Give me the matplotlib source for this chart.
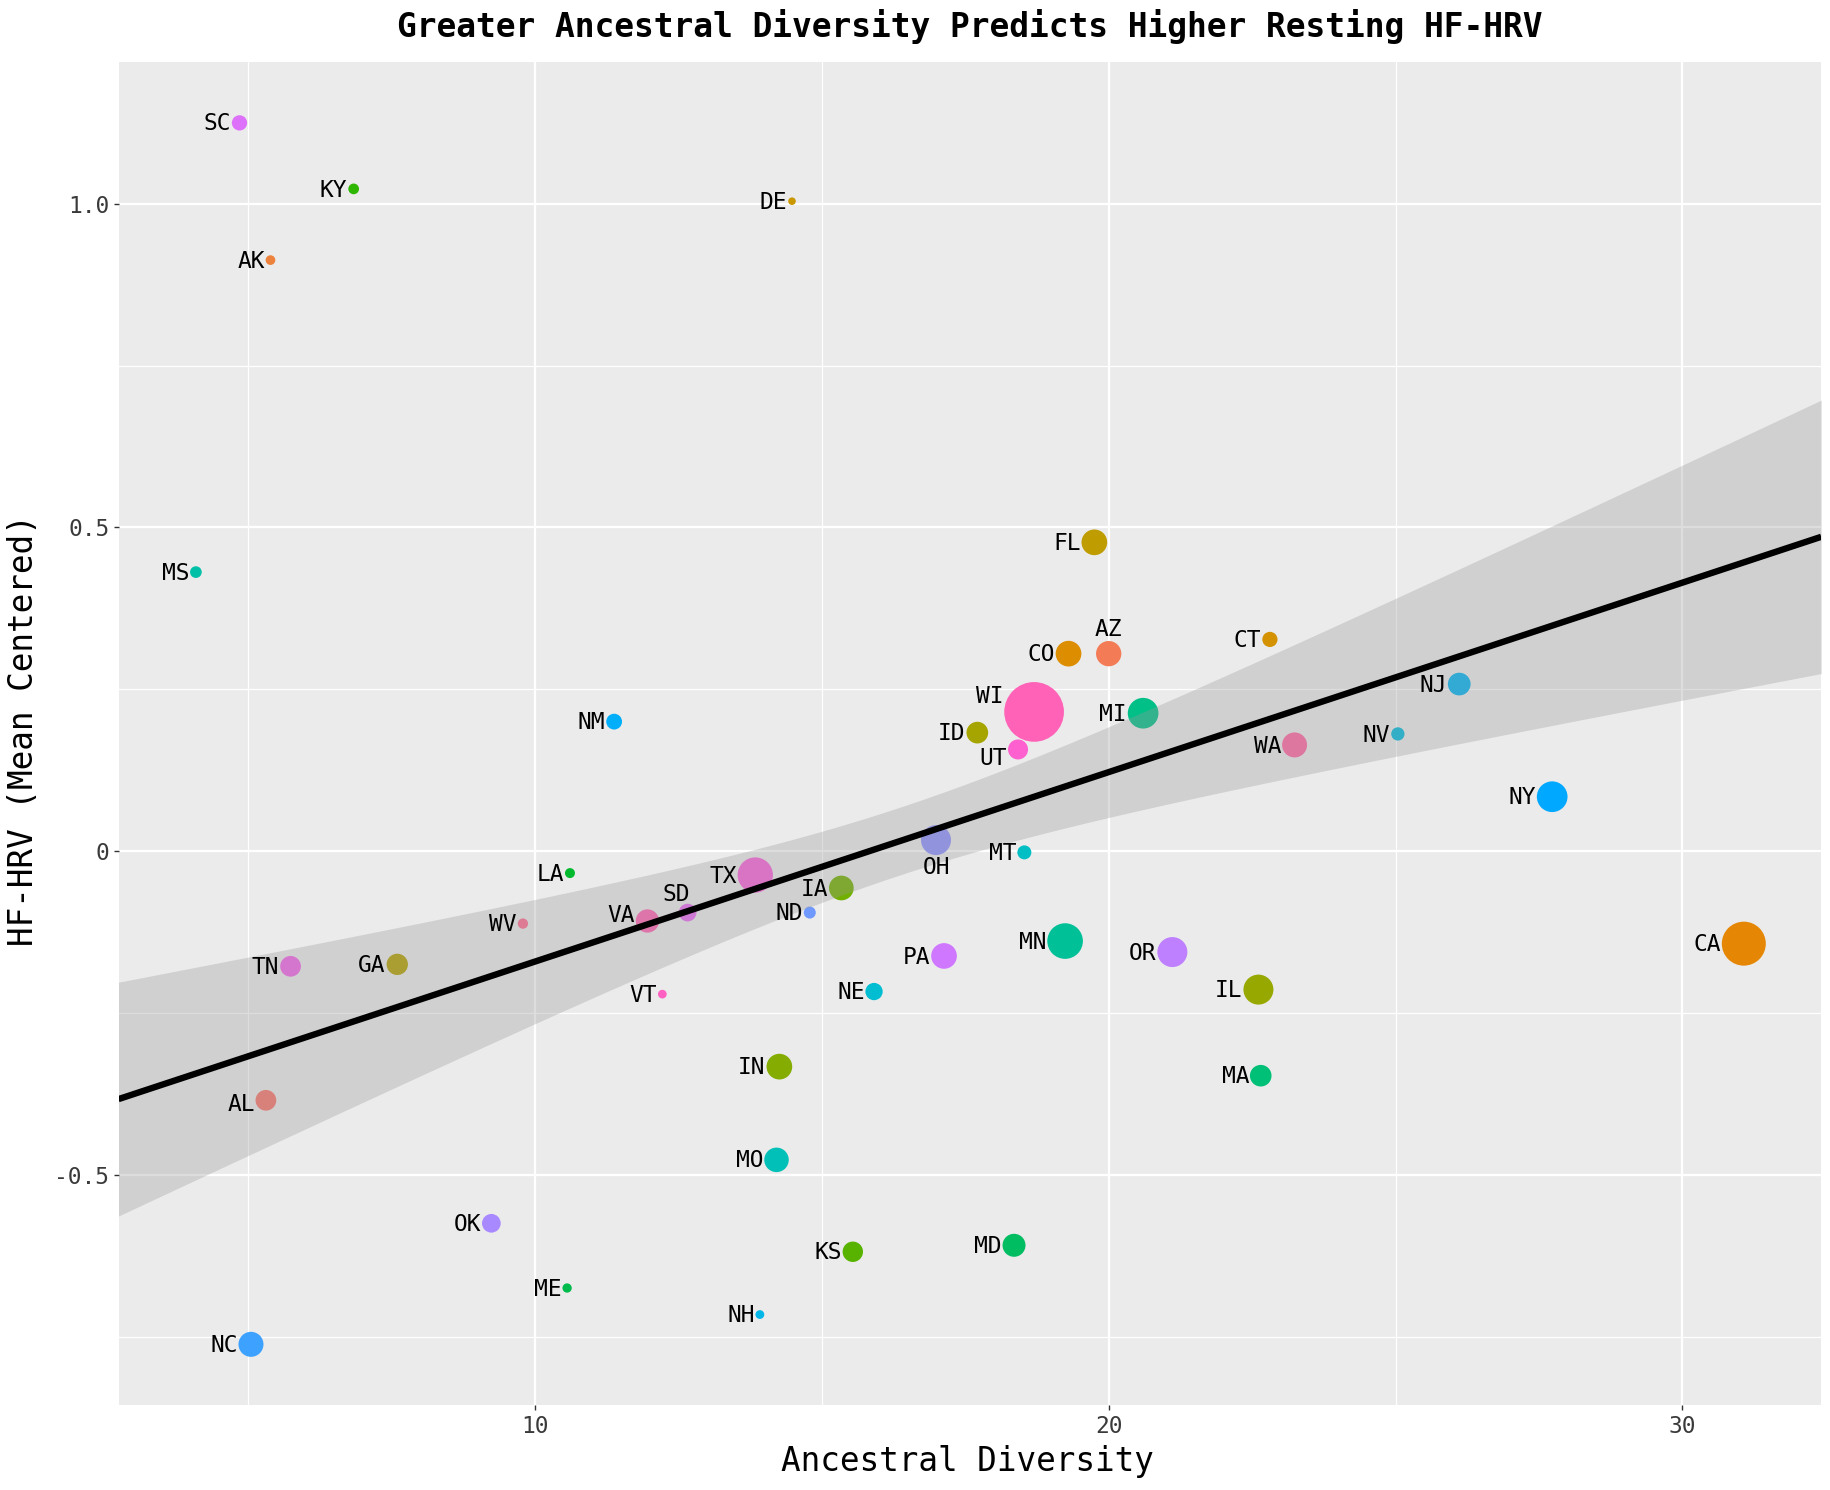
import matplotlib
matplotlib.use('Agg')
import matplotlib.pyplot as plt
import numpy as np
from matplotlib.ticker import FixedLocator


DPI = 100
FONT = 'DejaVu Sans Mono'
BAND_ALPHA = 0.33

# States in full-name order (this is the colour order of the hue scale)
states = ['AL', 'AK', 'AZ', 'CA', 'CO', 'CT', 'DE', 'FL', 'GA', 'ID', 'IL',
          'IN', 'IA', 'KS', 'KY', 'LA', 'ME', 'MD', 'MA', 'MI', 'MN', 'MS',
          'MO', 'MT', 'NE', 'NV', 'NH', 'NJ', 'NM', 'NY', 'NC', 'ND', 'OH',
          'OK', 'OR', 'PA', 'SC', 'SD', 'TN', 'TX', 'UT', 'VT', 'VA', 'WA',
          'WV', 'WI']
diversity = [5.31, 5.39, 20.00, 31.07, 19.30, 22.81, 14.48, 19.75, 7.60,
             17.71, 22.61, 14.26, 15.34, 15.54, 6.84, 10.61, 10.56, 18.35,
             22.65, 20.60, 19.24, 4.09, 14.21, 18.53, 15.91, 25.04, 13.92,
             26.11, 11.38, 27.73, 5.05, 14.79, 16.99, 9.24, 21.11, 17.13,
             4.85, 12.66, 5.74, 13.84, 18.42, 12.22, 11.96, 23.24, 9.79,
             18.70]
hf_hrv = [-0.385, 0.913, 0.305, -0.143, 0.305, 0.327, 1.004, 0.477, -0.175,
          0.183, -0.214, -0.333, -0.057, -0.619, 1.023, -0.034, -0.675,
          -0.609, -0.347, 0.213, -0.139, 0.431, -0.477, -0.002, -0.217,
          0.181, -0.716, 0.258, 0.200, 0.084, -0.762, -0.095, 0.017, -0.575,
          -0.156, -0.162, 1.125, -0.095, -0.178, -0.037, 0.157, -0.221,
          -0.108, 0.164, -0.112, 0.215]
# relative bubble size
bubble = [20.7, 9.7, 25.3, 44, 25.7, 15.2, 7.6, 25.7, 21.3, 21.7, 30, 25.7,
          24.7, 20.4, 10.7, 10, 9.3, 23, 21.6, 30.7, 35.6, 11.7, 24.5, 14,
          17.3, 13.3, 8.8, 22.7, 15.8, 30.7, 25, 12, 30, 18.7, 30, 25.7,
          15.3, 17.7, 20.7, 35.3, 20, 8.7, 23.3, 25, 10.3, 59.7]

# fitted model (line and 95% band)
fit_intercept = -0.4634
fit_slope = 0.02927
ci_x_center = 16.33
ci_half_at_center = 0.0523
ci_half_slope = 0.01272

x_major = [10, 20, 30]
x_minor = [5, 15, 25]
y_major = [-0.5, 0, 0.5, 1.0]
y_major_labels = ['-0.5', '0', '0.5', '1.0']
y_minor = [-0.75, -0.25, 0.25, 0.75]

# label placement: (dx, dy) in points relative to the point, ha
LABEL_OVERRIDES = {
    'AZ': (0, 17.3, 'center'),
    'SD': (-8, 13, 'center'),
    'OH': (0, -19.4, 'center'),
}
LABEL_DY = {'UT': -6.5, 'WI': 10.8, 'VA': 4.3, 'AL': -3}


def _hcl_hex(h, c=100.0, l=65.0):
    """Polar LUV to sRGB hex, same as R's hcl()."""
    hr = np.deg2rad(h)
    u = c * np.cos(hr)
    v = c * np.sin(hr)
    y = ((l + 16) / 116) ** 3
    xn, yn, zn = 0.95047, 1.0, 1.08883
    den = xn + 15 * yn + 3 * zn
    un, vn = 4 * xn / den, 9 * yn / den
    up = u / (13 * l) + un
    vp = v / (13 * l) + vn
    x = y * 9 * up / (4 * vp)
    z = y * (12 - 3 * up - 20 * vp) / (4 * vp)
    m = np.array([[3.2404542, -1.5371385, -0.4985314],
                  [-0.9692660, 1.8760108, 0.0415560],
                  [0.0556434, -0.2040259, 1.0572252]])
    rgb = m @ np.array([x, y, z])
    rgb = np.where(rgb <= 0.0031308, 12.92 * rgb,
                   1.055 * np.abs(rgb) ** (1 / 2.4) - 0.055)
    rgb = np.clip(rgb, 0, 1)
    return '#%02X%02X%02X' % tuple(int(round(ch * 255)) for ch in rgb)


def _hue_palette(n):
    return [_hcl_hex(15 + 360 * i / n) for i in range(n)]


def _expand(vals, mult=0.05):
    lo, hi = min(vals), max(vals)
    pad = (hi - lo) * mult
    return lo - pad, hi + pad


x = np.array(diversity)
y = np.array(hf_hrv)
diam_pt = np.array(bubble) * 72 / DPI
colors = _hue_palette(len(states))
# AK and AZ look swapped in the reference, WI is a hot pink
i_ak, i_az = states.index('AK'), states.index('AZ')
colors[i_ak], colors[i_az] = colors[i_az], colors[i_ak]
colors[states.index('WI')] = '#FF62B6'

xlim = _expand(diversity)
ylim = _expand(hf_hrv)

xs = np.linspace(xlim[0], xlim[1], 200)
ys = fit_intercept + fit_slope * xs
half = np.sqrt(ci_half_at_center ** 2
               + (ci_half_slope * (xs - ci_x_center)) ** 2)

fig = plt.figure(figsize=(1830 / DPI, 1490 / DPI), dpi=DPI)
ax = fig.add_axes([118.5 / 1830, 1 - 1405.4 / 1490,
                   (1821.2 - 118.5) / 1830, (1405.4 - 61.8) / 1490])
ax.set_facecolor('#EBEBEB')
for sp in ax.spines.values():
    sp.set_visible(False)

ax.set_xlim(*xlim)
ax.set_ylim(*ylim)
ax.xaxis.set_major_locator(FixedLocator(x_major))
ax.xaxis.set_minor_locator(FixedLocator(x_minor))
ax.yaxis.set_major_locator(FixedLocator(y_major))
ax.yaxis.set_minor_locator(FixedLocator(y_minor))
ax.set_xticklabels([str(v) for v in x_major])
ax.set_yticklabels(y_major_labels)
ax.grid(True, which='major', color='white', linewidth=1.6, zorder=0)
ax.grid(True, which='minor', color='white', linewidth=0.9, zorder=0)
ax.set_axisbelow(True)
ax.tick_params(which='major', length=3.6, width=1.0, color='#333333',
               labelsize=16.5, labelcolor='#3A3A3A', pad=3)
ax.tick_params(which='minor', length=0)
for lab in ax.get_xticklabels() + ax.get_yticklabels():
    lab.set_family(FONT)

ax.scatter(x, y, s=diam_pt ** 2, c=colors, linewidths=0, zorder=2)
ax.fill_between(xs, ys - half, ys + half, color='#999999',
                alpha=BAND_ALPHA, linewidth=0, zorder=3)
ax.plot(xs, ys, color='black', linewidth=4.6, solid_capstyle='butt',
        zorder=4)

for st, xi, yi, d in zip(states, x, y, diam_pt):
    if st in LABEL_OVERRIDES:
        dx, dy, ha = LABEL_OVERRIDES[st]
    else:
        dx, dy, ha = -(d / 2 + 0.6), LABEL_DY.get(st, -0.8), 'right'
    ax.annotate(st, (xi, yi), xytext=(dx, dy), textcoords='offset points',
                ha=ha, va='center', fontsize=16.5, family=FONT,
                color='black', zorder=5)

fig.text(970 / 1830, 1 - 27 / 1490,
         'Greater Ancestral Diversity Predicts Higher Resting HF-HRV',
         ha='center', va='center', fontsize=23.7, family=FONT,
         fontweight='bold')
fig.text(967 / 1830, 1 - 1461 / 1490, 'Ancestral Diversity',
         ha='center', va='center', fontsize=23.5, family=FONT)
fig.text(24 / 1830, 1 - 730 / 1490, 'HF-HRV (Mean Centered)',
         ha='center', va='center', rotation=90, fontsize=23.5, family=FONT)

fig.savefig('out.png', dpi=DPI)
